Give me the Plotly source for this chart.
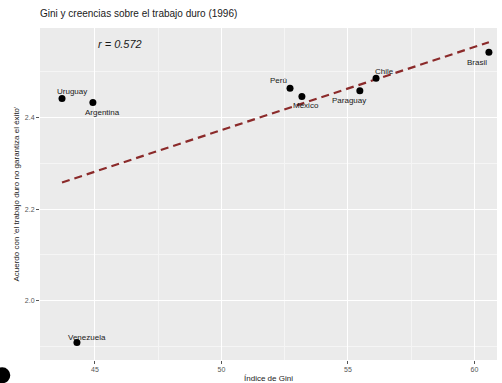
import numpy as np
import plotly.graph_objects as go

# Gini index and mean agreement by country (1996)
paises = ["Uruguay", "Argentina", "Venezuela", "Perú", "México", "Paraguay", "Chile", "Brasil"]
gini = [43.70, 44.92, 44.29, 52.71, 53.18, 55.47, 56.11, 60.57]
acuerdo = [2.442, 2.433, 1.908, 2.464, 2.446, 2.459, 2.486, 2.543]

# label offsets (px) relative to each point
label_dx = [10, 10, 10, -12, 4, -11, 8, -12]
label_dy = [-7, 10, -5, -8, 9, 10, -7, 10]

x_ticks = [45, 50, 55, 60]
y_ticks = [2.0, 2.2, 2.4]

x = np.array(gini)
y = np.array(acuerdo)
slope, intercept = np.polyfit(x, y, 1)
r = np.corrcoef(x, y)[0, 1]
xl = np.array([x.min(), x.max()])
yl = intercept + slope * xl

FONT = "Liberation Sans, Arial, sans-serif"

fig = go.Figure()
fig.add_trace(go.Scatter(
    x=xl, y=yl, mode="lines",
    line=dict(color="#8b2a2a", width=2.2, dash="8px,5px"),
    hoverinfo="skip", showlegend=False,
))
fig.add_trace(go.Scatter(
    x=gini, y=acuerdo, mode="markers",
    marker=dict(color="black", size=7),
    showlegend=False,
))

for p, gx, ay, dx, dy in zip(paises, gini, acuerdo, label_dx, label_dy):
    fig.add_annotation(
        x=gx, y=ay, text=p, showarrow=False,
        xshift=dx, yshift=-dy,
        font=dict(family=FONT, size=8, color="#1a1a1a"),
    )

fig.add_annotation(
    x=46.0, y=2.56, text=f"<i>r = {r:.3f}</i>", showarrow=False,
    font=dict(family=FONT, size=11, color="#1a1a1a"),
)

grid_major = "#ffffff"
fig.update_layout(
    template="none",
    width=502, height=383,
    margin=dict(l=40, r=5, t=28, b=23),
    paper_bgcolor="white",
    plot_bgcolor="#ebebeb",
    font=dict(family=FONT, size=8, color="#444444"),
    title=dict(
        text="Gini y creencias sobre el trabajo duro (1996)",
        x=0, xref="paper", xanchor="left",
        y=1, yref="container", yanchor="top", pad=dict(t=10),
        font=dict(family=FONT, size=10, color="#1a1a1a"),
    ),
    xaxis=dict(
        range=[42.83, 60.89], tickvals=x_ticks, ticktext=[str(v) for v in x_ticks],
        showgrid=True, gridcolor=grid_major, gridwidth=1.1, zeroline=False,
        showline=False,
        ticks="outside", ticklen=3, tickcolor="#555555",
        tickfont=dict(family=FONT, size=7, color="#555555"),
        minor=dict(tickvals=[42.5, 47.5, 52.5, 57.5], showgrid=True, gridcolor="#f5f5f5", gridwidth=0.6),
        title=dict(text="Índice de Gini", font=dict(family=FONT, size=8, color="#1a1a1a"), standoff=4),
    ),
    yaxis=dict(
        range=[1.870, 2.596], tickvals=y_ticks, ticktext=[f"{v:.1f}" for v in y_ticks],
        showgrid=True, gridcolor=grid_major, gridwidth=1.1, zeroline=False,
        showline=False,
        ticks="outside", ticklen=3, tickcolor="#555555",
        tickfont=dict(family=FONT, size=7, color="#555555"),
        minor=dict(tickvals=[1.9, 2.1, 2.3, 2.5], showgrid=True, gridcolor="#f5f5f5", gridwidth=0.6),
        title=dict(text="Acuerdo con 'el trabajo duro no garantiza el éxito'",
                   font=dict(family=FONT, size=8, color="#1a1a1a"), standoff=4),
    ),
    shapes=[dict(
        type="circle", xref="paper", yref="paper",
        x0=-0.1, x1=-0.065, y0=-0.07, y1=-0.022,
        fillcolor="black", line=dict(width=0),
    )],
)

fig.write_html("out.html")
